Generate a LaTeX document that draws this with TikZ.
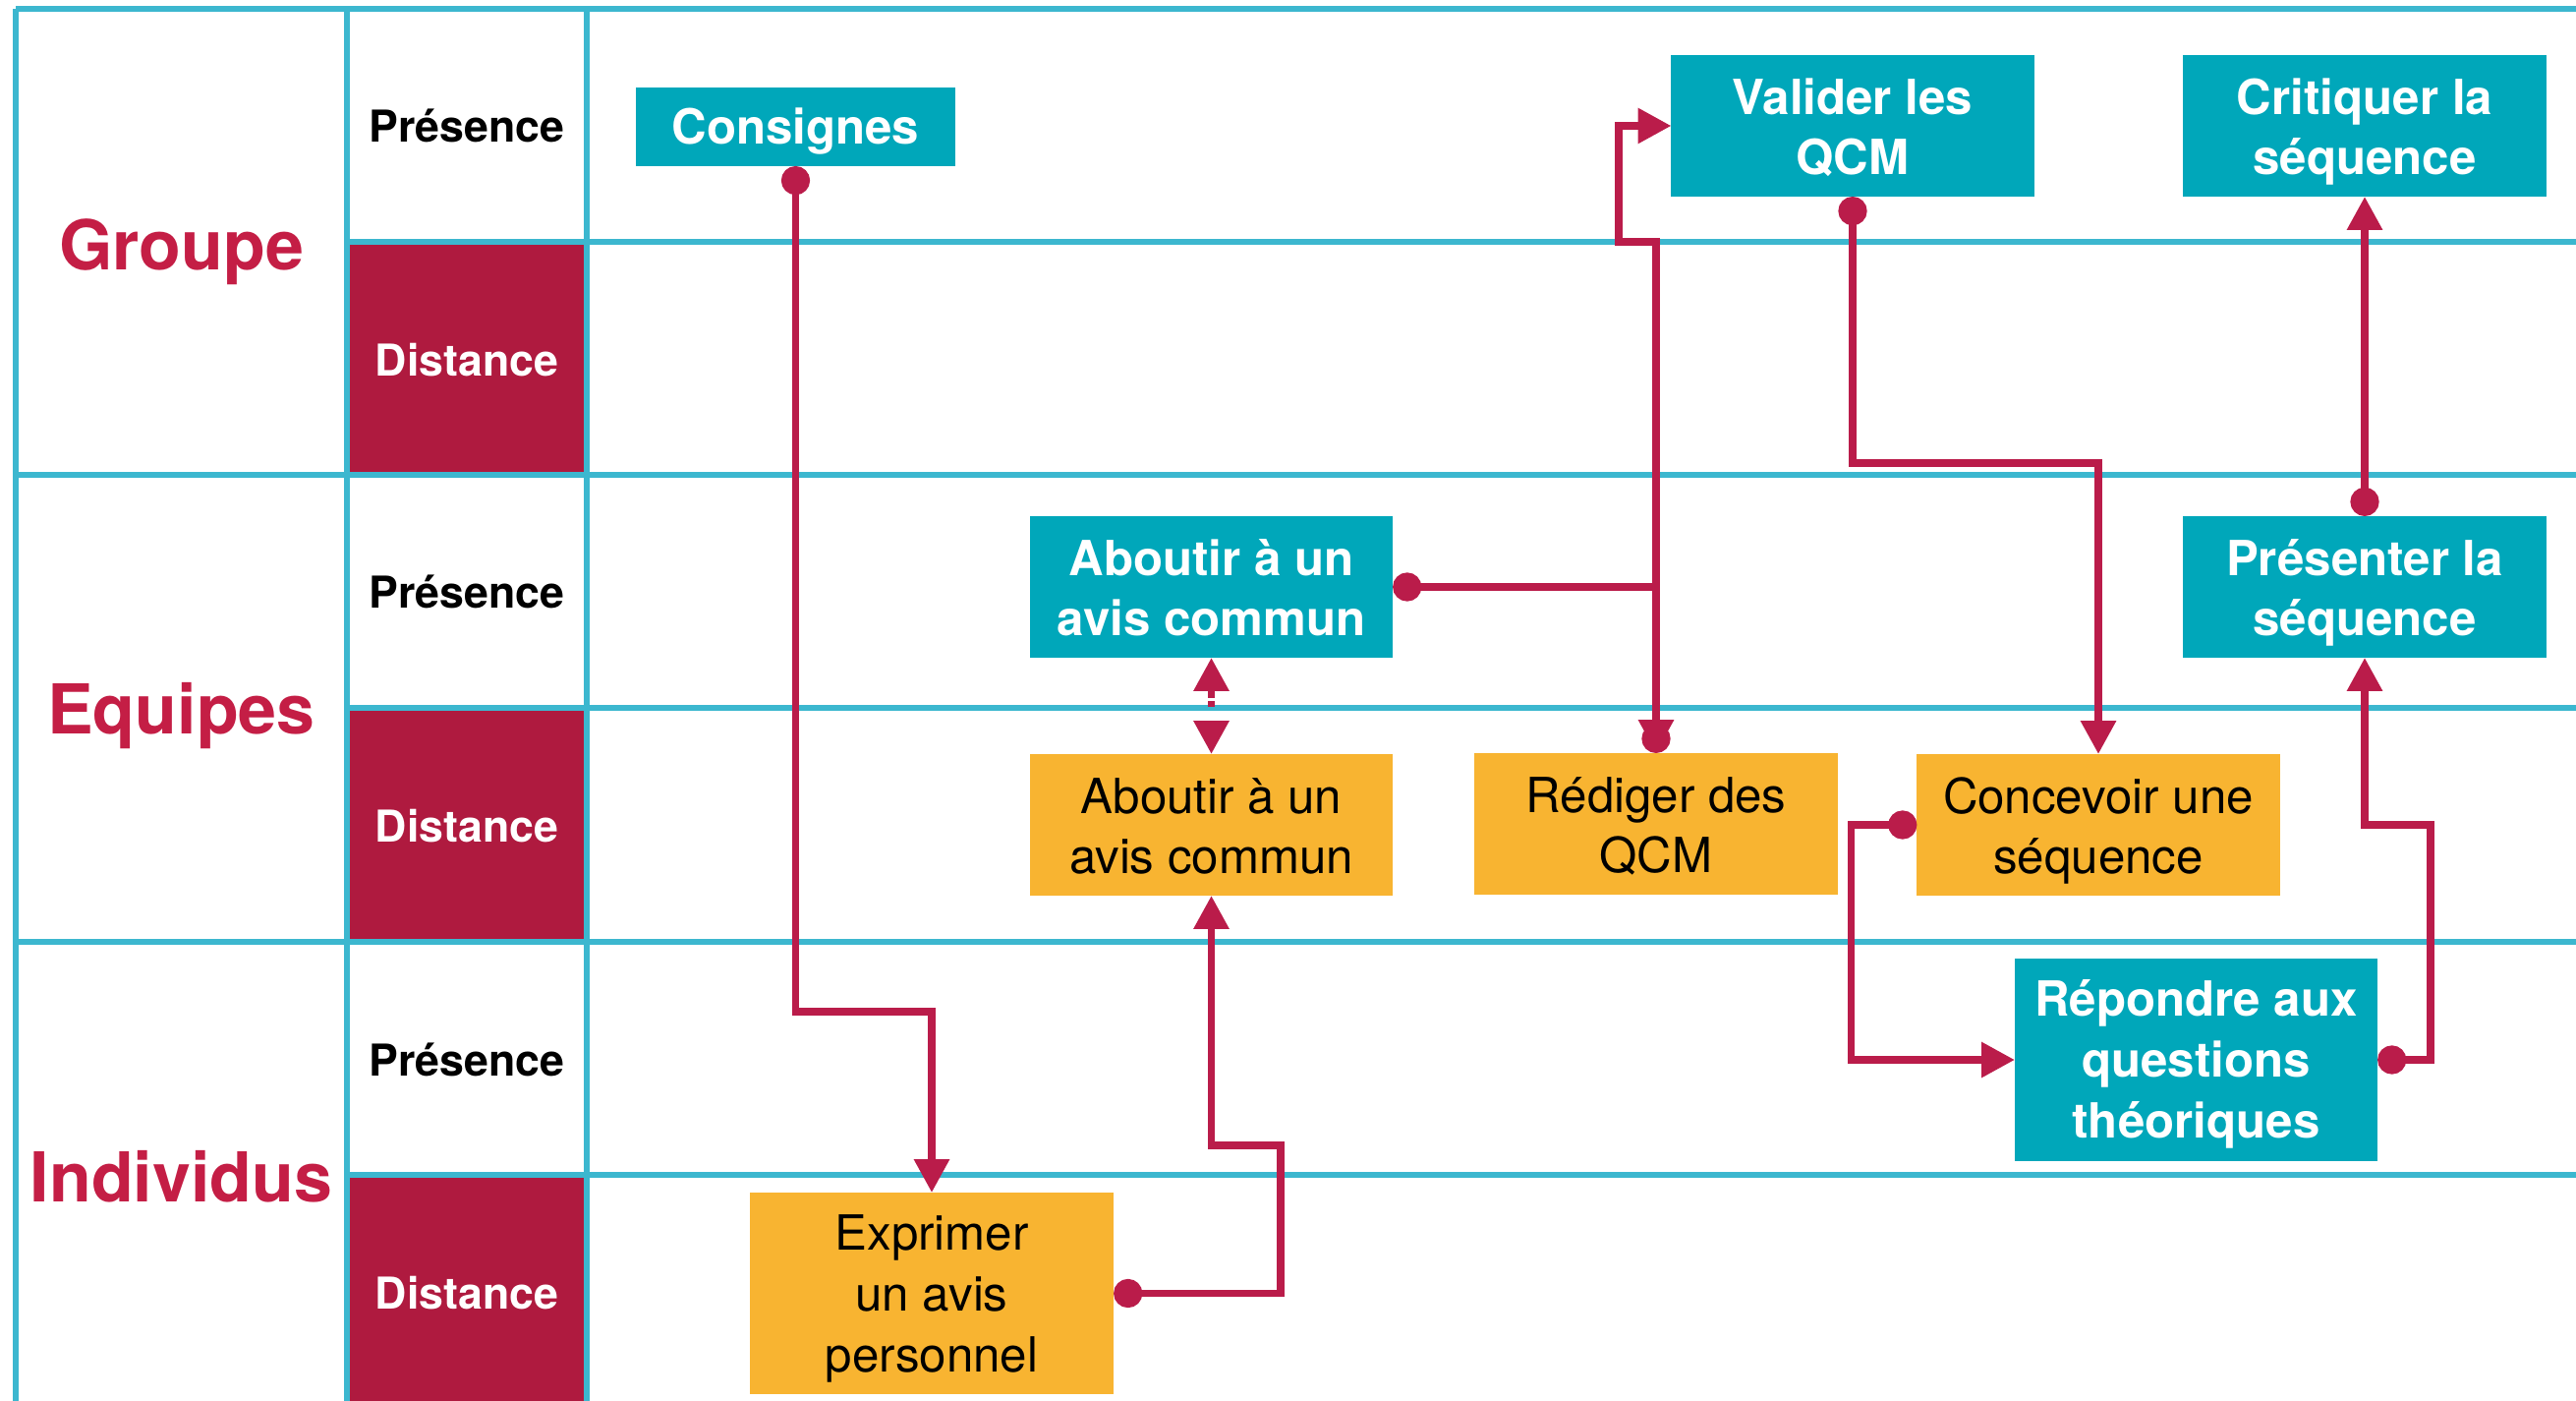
\documentclass[tikz,border=0pt]{standalone}
\usepackage{fontspec}
\setmainfont{TeX Gyre Heros}
\usetikzlibrary{arrows.meta}
\definecolor{gridblue}{RGB}{60,183,207}
\definecolor{boxteal}{RGB}{0,167,186}
\definecolor{boxorange}{RGB}{248,180,49}
\definecolor{linkred}{RGB}{186,28,74}
\definecolor{cellred}{RGB}{175,26,63}
\definecolor{titlered}{RGB}{196,30,69}

\begin{document}
\begin{tikzpicture} [x=0.01cm,y=-0.01cm,
			grid line/.style={draw=gridblue,line width=1.45pt},
			dist cell/.style={fill=cellred},
			group name/.style={anchor=base,text=titlered,font=\bfseries\fontsize{19.9}{24}\selectfont},
			mode name/.style={font=\bfseries\fontsize{12.7}{15}\selectfont},
			dist name/.style={mode name,text=white},
			task box/.style={inner sep=0pt,outer sep=0pt,align=center,minimum width=3.69cm,minimum height=1.44cm,text height=28.4pt,text depth=0pt},
			one line/.style={text height=10.2pt},
			three lines/.style={text height=45.3pt},
			presence task/.style={task box,fill=boxteal,text=white,font=\bfseries\fontsize{14}{17.6}\selectfont},
			distance task/.style={task box,fill=boxorange,text=black,font=\fontsize{14}{17.6}\selectfont},
			link/.style={draw=linkred,line width=2.1pt,{Circle[length=8.3pt]}-{Triangle[length=9.6pt,width=9.8pt]}},
			both ways/.style={dash pattern=on 2.6pt off 0.9pt on 1.7pt off 6pt,{Triangle[length=9.6pt,width=9.8pt]}-{Triangle[length=9.6pt,width=9.8pt]}}]

		\useasboundingbox (0,0) rectangle (2621,1425);

		\fill [dist cell] (353,246) rectangle (597,483);
		\fill [dist cell] (353,720) rectangle (597,958);
		\fill [dist cell] (353,1195) rectangle (597,1425);

		\draw [grid line] (16,9) -- (2621,9);
		\draw [grid line] (16,9) -- (16,1425);
		\draw [grid line] (353,9) -- (353,1425);
		\draw [grid line] (597,9) -- (597,1425);
		\draw [grid line] (16,483) -- (2621,483);
		\draw [grid line] (16,958) -- (2621,958);
		\draw [grid line] (353,246) -- (2621,246);
		\draw [grid line] (353,720) -- (2621,720);
		\draw [grid line] (353,1195) -- (2621,1195);

		\node [group name] (groupe) at (184.5,275) {Groupe};
		\node [group name] (equipes) at (184.5,746) {Equipes};
		\node [group name] (individus) at (184.5,1222) {Individus};

		\node [mode name] (gp) at (475,128) {Présence};
		\node [dist name] (gd) at (475,366) {Distance};
		\node [mode name] (ep) at (475,602) {Présence};
		\node [dist name] (ed) at (475,840) {Distance};
		\node [mode name] (ip) at (475,1078) {Présence};
		\node [dist name] (id) at (475,1315) {Distance};

		\node [presence task, one line, minimum width=3.25cm, minimum height=0.8cm] (consignes) at (809.5,129) {Consignes};
		\node [presence task] (valider) at (1885,128) {Valider les\\QCM};
		\node [presence task] (critiquer) at (2406,128) {Critiquer la\\séquence};
		\node [presence task] (abtP) at (1232.5,597) {Aboutir à un\\avis commun};
		\node [presence task] (presenter) at (2406,597) {Présenter la\\séquence};
		\node [distance task] (abtD) at (1232.5,839) {Aboutir à un\\avis commun};
		\node [distance task] (rediger) at (1685,838) {Rédiger des\\QCM};
		\node [distance task] (concevoir) at (2135,839) {Concevoir une\\séquence};
		\node [presence task, three lines, minimum height=2.06cm] (repondre) at (2234.5,1078) {Répondre aux\\questions\\théoriques};
		\node [distance task, three lines, minimum width=3.7cm, minimum height=2.05cm] (exprimer) at (948,1315.5) {Exprimer\\un avis\\personnel};

		\draw [link] (consignes.south) -- ++(0,860) -| (exprimer.north);
		\draw [link] (exprimer.east) -- ++(170,0) -- ++(0,-150.5) -| (abtD.south);
		\draw [link, both ways] (abtP.south) -- (abtD.north);
		\draw [link] (abtP.east) -| (rediger.north);
		\draw [link] (rediger.north) -- ++(0,-520) -- ++(-38,0) |- (valider.west);
		\draw [link] (valider.south) -- ++(0,271) -| (concevoir.north);
		\draw [link] (concevoir.west) -- ++(-67,0) |- (repondre.west);
		\draw [link] (repondre.east) -- ++(54,0) -- ++(0,-239) -| (presenter.south);
		\draw [link] (presenter) -- (critiquer);

		\end{tikzpicture}
\end{document}
